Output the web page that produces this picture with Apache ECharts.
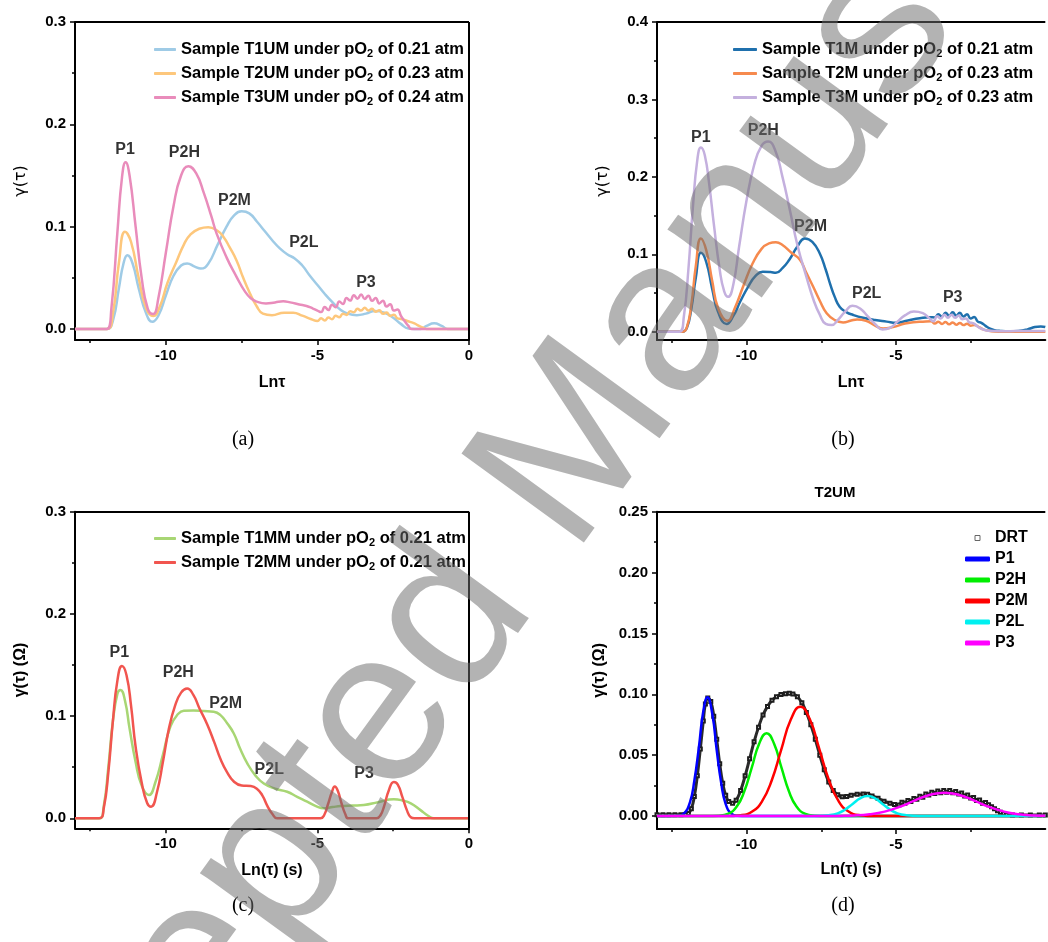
<!DOCTYPE html>
<html>
<head>
<meta charset="utf-8">
<title>DRT curves</title>
<script src="https://cdn.jsdelivr.net/npm/echarts@6/dist/echarts.min.js"></script>
<style>
  html, body { margin: 0; padding: 0; background: #fff; }
  #main { width: 1048px; height: 942px; }
</style>
</head>
<body>
<div id="main"></div>
<script>
// ---- panel (a) : as-prepared cells ----
var t1um = [[-13,0],[-11.95,0],[-11.75,0.008],[-11.55,0.04],[-11.4,0.064],[-11.27,0.072],[-11.1,0.064],[-10.9,0.04],[-10.65,0.015],[-10.45,0.007],[-10.25,0.013],[-10.0,0.033],[-9.75,0.052],[-9.5,0.062],[-9.3,0.064],[-9.05,0.061],[-8.85,0.059],[-8.6,0.064],[-8.3,0.082],[-8.0,0.1],[-7.75,0.111],[-7.5,0.115],[-7.25,0.113],[-7.0,0.105],[-6.75,0.096],[-6.5,0.087],[-6.25,0.079],[-6.0,0.073],[-5.75,0.069],[-5.5,0.062],[-5.25,0.052],[-5.0,0.043],[-4.75,0.034],[-4.5,0.026],[-4.25,0.019],[-4.0,0.015],[-3.7,0.0135],[-3.4,0.015],[-3.1,0.0175],[-2.8,0.016],[-2.5,0.011],[-2.25,0.005],[-2.0,0.0005],[-1.6,0],[-1.4,0.003],[-1.15,0.0055],[-0.9,0.003],[-0.7,0],[0,0]];
var t2um = [[-13,0],[-11.95,0],[-11.75,0.015],[-11.55,0.065],[-11.35,0.095],[-11.15,0.085],[-10.9,0.05],[-10.65,0.02],[-10.42,0.0127],[-10.2,0.022],[-9.95,0.045],[-9.65,0.066],[-9.4,0.083],[-9.2,0.092],[-8.9,0.098],[-8.6,0.0995],[-8.3,0.096],[-8.1,0.09],[-7.9,0.08],[-7.67,0.067],[-7.45,0.05],[-7.23,0.035],[-7.0,0.022],[-6.8,0.015],[-6.5,0.0135],[-6.1,0.016],[-5.8,0.016],[-5.5,0.013],[-5.2,0.0095],
  [-5.0,0.0078],[-4.88,0.0104],[-4.76,0.0083],[-4.64,0.0112],[-4.52,0.0096],[-4.4,0.0129],[-4.28,0.0115],[-4.16,0.015],[-4.04,0.0138],[-3.92,0.0174],[-3.8,0.0163],[-3.68,0.0197],[-3.56,0.018],[-3.44,0.0207],[-3.32,0.0181],[-3.2,0.0199],[-3.08,0.0168],[-2.96,0.0182],[-2.84,0.0148],[-2.72,0.0162],[-2.6,0.0128],[-2.48,0.014],[-2.36,0.0104],[-2.24,0.0098],[-2.1,0.0085],[-1.95,0.007],[-1.8,0.0055],[-1.65,0.003],[-1.5,0.001],[-1.4,0],[0,0]];
var t3um = [[-13,0],[-11.95,0],[-11.8,0.02],[-11.6,0.095],[-11.45,0.148],[-11.33,0.163],[-11.2,0.15],[-11.0,0.1],[-10.8,0.05],[-10.6,0.02],[-10.42,0.0147],[-10.25,0.03],[-10.0,0.075],[-9.75,0.12],[-9.5,0.15],[-9.26,0.159],[-9.0,0.152],[-8.75,0.133],[-8.5,0.11],[-8.33,0.0935],[-8.0,0.07],[-7.67,0.051],[-7.4,0.037],[-7.2,0.03],[-7.0,0.0267],[-6.7,0.025],[-6.4,0.026],[-6.13,0.027],[-5.9,0.026],[-5.6,0.024],[-5.36,0.0225],[-5.15,0.02],[-5.0,0.018],
  [-4.88,0.0165],[-4.76,0.0215],[-4.64,0.0185],[-4.52,0.0238],[-4.4,0.0212],[-4.28,0.0268],[-4.16,0.0245],[-4.04,0.0302],[-3.92,0.0278],[-3.8,0.033],[-3.68,0.0296],[-3.56,0.0338],[-3.44,0.0294],[-3.32,0.0326],[-3.2,0.0275],[-3.08,0.0303],[-2.96,0.025],[-2.84,0.0276],[-2.72,0.022],[-2.6,0.0242],[-2.48,0.018],[-2.36,0.019],[-2.24,0.0125],[-2.12,0.0075],[-2.0,0.003],[-1.9,0],[0,0]];

// ---- panel (b) : modified cells ----
var t1m = [[-13,0],[-12.15,0],[-12.0,0.005],[-11.85,0.03],[-11.7,0.07],[-11.53,0.102],[-11.35,0.09],[-11.15,0.055],[-10.95,0.025],[-10.67,0.010],[-10.45,0.02],[-10.2,0.04],[-9.95,0.058],[-9.7,0.072],[-9.46,0.0775],[-9.2,0.077],[-9.02,0.076],[-8.8,0.082],[-8.57,0.093],[-8.3,0.11],[-8.05,0.1205],[-7.8,0.116],[-7.55,0.101],[-7.35,0.08],[-7.21,0.0625],[-7.05,0.045],[-6.88,0.032],[-6.65,0.025],[-6.43,0.0216],[-6.1,0.018],[-5.7,0.015],[-5.31,0.013],[-5.0,0.0115],[-4.6,0.0145],[-4.2,0.0173],[-3.86,0.0186],
  [-3.7,0.0185],[-3.58,0.0225],[-3.46,0.0195],[-3.34,0.0245],[-3.22,0.0205],[-3.1,0.025],[-2.98,0.0205],[-2.86,0.0245],[-2.74,0.0195],[-2.62,0.0225],[-2.5,0.017],[-2.38,0.019],[-2.26,0.013],[-2.14,0.0115],[-2.0,0.0075],[-1.85,0.004],[-1.7,0.002],[-1.5,0.001],[-1.2,0.0005],[-0.9,0.001],[-0.6,0.003],[-0.35,0.006],[-0.15,0.0068],[0,0.006]];
var t2m = [[-13,0],[-12.15,0],[-12.0,0.006],[-11.85,0.035],[-11.7,0.085],[-11.53,0.1205],[-11.35,0.105],[-11.15,0.065],[-10.95,0.03],[-10.64,0.014],[-10.4,0.03],[-10.1,0.06],[-9.8,0.088],[-9.5,0.107],[-9.25,0.114],[-9.02,0.1155],[-8.8,0.112],[-8.5,0.102],[-8.21,0.0926],[-8.0,0.076],[-7.77,0.058],[-7.55,0.04],[-7.32,0.0238],[-7.05,0.015],[-6.77,0.012],[-6.5,0.0145],[-6.3,0.0158],[-6.0,0.014],[-5.7,0.008],[-5.43,0.004],[-5.1,0.006],[-4.7,0.0105],[-4.42,0.0122],[-4.1,0.013],
  [-3.82,0.0135],[-3.7,0.0105],[-3.58,0.013],[-3.46,0.01],[-3.34,0.0125],[-3.22,0.0095],[-3.1,0.012],[-2.98,0.009],[-2.86,0.0112],[-2.74,0.0085],[-2.62,0.0102],[-2.5,0.0078],[-2.38,0.0085],[-2.2,0.0055],[-2.08,0.003],[-1.9,0.0012],[-1.7,0.0003],[-1.4,0],[0,0]];
var t3m = [[-13,0],[-12.25,0],[-12.1,0.02],[-11.95,0.08],[-11.8,0.16],[-11.65,0.222],[-11.53,0.238],[-11.4,0.228],[-11.25,0.19],[-11.1,0.14],[-10.9,0.08],[-10.75,0.052],[-10.62,0.045],[-10.45,0.06],[-10.25,0.11],[-10.0,0.17],[-9.75,0.215],[-9.5,0.24],[-9.28,0.2455],[-9.05,0.235],[-8.8,0.2],[-8.55,0.157],[-8.3,0.112],[-8.0,0.071],[-7.75,0.04],[-7.55,0.022],[-7.35,0.01],[-7.15,0.0085],[-6.95,0.015],[-6.7,0.026],[-6.45,0.0335],[-6.2,0.03],[-5.95,0.02],[-5.7,0.01],[-5.45,0.003],[-5.2,0.005],[-4.95,0.013],[-4.7,0.021],[-4.4,0.026],[-4.1,0.024],[-3.9,0.018],[-3.75,0.0135],
  [-3.62,0.02],[-3.5,0.017],[-3.38,0.022],[-3.26,0.018],[-3.14,0.022],[-3.02,0.018],[-2.9,0.021],[-2.78,0.016],[-2.66,0.017],[-2.54,0.012],[-2.42,0.011],[-2.2,0.005],[-2.0,0.002],[-1.74,0.001],[-1.4,0.0005],[-1.0,0.0008],[-0.5,0.001],[0,0.001]];

// ---- panel (c) ----
var t1mm = [[-13,0],[-12.2,0],[-12.05,0.012],[-11.9,0.05],[-11.75,0.095],[-11.6,0.122],[-11.5,0.1255],[-11.35,0.115],[-11.2,0.088],[-11.0,0.055],[-10.8,0.032],[-10.56,0.0228],[-10.35,0.035],[-10.1,0.062],[-9.85,0.09],[-9.6,0.102],[-9.41,0.1053],[-9.1,0.1055],[-8.75,0.105],[-8.42,0.1043],[-8.2,0.101],[-7.98,0.093],[-7.76,0.083],[-7.55,0.068],[-7.32,0.054],[-7.05,0.042],[-6.77,0.034],[-6.4,0.029],[-6.0,0.026],[-5.67,0.021],[-5.34,0.0163],[-5.05,0.012],[-4.79,0.0098],[-4.5,0.011],[-4.23,0.012],[-3.85,0.0125],[-3.47,0.013],[-3.0,0.0158],[-2.48,0.0186],[-2.2,0.0175],[-1.92,0.0147],[-1.6,0.008],[-1.35,0.0025],[-1.16,0],[0,0]];
var t2mm = [[-13,0],[-12.2,0],[-12.05,0.01],[-11.9,0.045],[-11.75,0.095],[-11.6,0.135],[-11.45,0.149],[-11.3,0.14],[-11.15,0.11],[-11.0,0.07],[-10.8,0.035],[-10.62,0.015],[-10.49,0.0114],[-10.3,0.025],[-10.1,0.055],[-9.9,0.088],[-9.7,0.11],[-9.5,0.123],[-9.3,0.127],[-9.1,0.121],[-8.9,0.108],[-8.64,0.092],[-8.4,0.074],[-8.2,0.058],[-7.98,0.045],[-7.76,0.036],[-7.5,0.032],[-7.2,0.0315],[-7.0,0.029],[-6.82,0.0225],[-6.65,0.012],[-6.48,0.004],[-6.33,0],[-4.9,0],[-4.78,0.003],[-4.65,0.014],[-4.52,0.026],[-4.43,0.031],[-4.33,0.027],[-4.2,0.014],[-4.08,0.004],[-3.98,0],[-3.05,0],[-2.92,0.003],[-2.8,0.012],[-2.65,0.027],[-2.48,0.0355],[-2.35,0.033],[-2.2,0.021],[-2.05,0.008],[-1.92,0.001],[-1.8,0],[0,0]];

// ---- panel (d) : T2UM deconvolution ----
var drt = [[-13,0.001],[-12.8,0.001],[-12.6,0.001],[-12.4,0.001],[-12.2,0.001],[-12.05,0.0012],[-11.95,0.002],[-11.85,0.006],[-11.75,0.016],[-11.65,0.033],[-11.55,0.055],[-11.45,0.078],[-11.38,0.092],[-11.3,0.097],[-11.2,0.094],[-11.1,0.082],[-11.0,0.063],[-10.9,0.043],[-10.8,0.027],[-10.7,0.017],[-10.6,0.012],[-10.47,0.0104],[-10.35,0.013],[-10.2,0.021],[-10.05,0.033],[-9.9,0.047],[-9.75,0.061],[-9.6,0.073],[-9.45,0.083],[-9.3,0.09],[-9.15,0.095],[-9.0,0.098],[-8.85,0.0998],[-8.7,0.1005],[-8.57,0.1008],[-8.45,0.1003],[-8.3,0.098],[-8.15,0.093],[-8.0,0.085],[-7.85,0.075],[-7.7,0.063],[-7.55,0.05],[-7.4,0.038],[-7.25,0.028],[-7.1,0.021],[-6.95,0.0175],[-6.8,0.0158],[-6.65,0.016],[-6.5,0.017],[-6.3,0.0178],[-6.1,0.018],[-5.95,0.0178],[-5.8,0.0165],[-5.6,0.0145],[-5.4,0.0122],[-5.2,0.0105],[-5.05,0.0095],
  [-4.9,0.009],[-4.8,0.0113],[-4.7,0.0104],[-4.6,0.0128],[-4.5,0.012],[-4.4,0.0144],[-4.3,0.0137],[-4.2,0.0162],[-4.1,0.0155],[-4.0,0.018],[-3.9,0.0172],[-3.8,0.0195],[-3.7,0.0185],[-3.6,0.0205],[-3.5,0.0192],[-3.4,0.021],[-3.3,0.0195],[-3.2,0.0209],[-3.1,0.019],[-3.0,0.0201],[-2.9,0.018],[-2.8,0.0188],[-2.7,0.0164],[-2.6,0.0172],[-2.5,0.0147],[-2.4,0.0153],[-2.3,0.0127],[-2.2,0.0132],[-2.1,0.0105],[-2.0,0.0111],[-1.9,0.0092],[-1.8,0.0076],[-1.7,0.006],[-1.6,0.0044],[-1.5,0.003],[-1.4,0.0019],[-1.3,0.0012],[-1.1,0.0008],[-0.8,0.0008],[-0.5,0.0008],[-0.2,0.0008],[0,0.0008]];
var fitP1 = [[-13,0],[-12.3,0.0002],[-12.1,0.002],[-11.9,0.011],[-11.75,0.029],[-11.6,0.056],[-11.45,0.086],[-11.31,0.0975],[-11.15,0.084],[-11.0,0.054],[-10.85,0.027],[-10.7,0.0098],[-10.5,0.0017],[-10.3,0.0002],[-10.0,0],[0,0]];
var fitP2H = [[-13,0],[-11.33,0],[-10.93,0.0003],[-10.63,0.0017],[-10.33,0.0078],[-10.08,0.0201],[-9.83,0.0395],[-9.58,0.0594],[-9.33,0.068],[-9.08,0.0594],[-8.83,0.0395],[-8.58,0.0201],[-8.33,0.0078],[-8.03,0.0017],[-7.73,0.0003],[-7.33,0],[0,0]];
var fitP2M = [[-13,0],[-10.7,0],[-10.2,0.0007],[-9.8,0.0039],[-9.48,0.0122],[-9.16,0.0292],[-8.84,0.0545],[-8.52,0.0792],[-8.2,0.0898],[-7.88,0.0792],[-7.56,0.0545],[-7.24,0.0292],[-6.92,0.0122],[-6.6,0.0039],[-6.2,0.0007],[-5.7,0],[0,0]];
var fitP2L = [[-13,0],[-7.65,0],[-7.25,0.0006],[-6.95,0.0022],[-6.7,0.0053],[-6.45,0.0099],[-6.2,0.0145],[-5.95,0.0164],[-5.7,0.0145],[-5.45,0.0099],[-5.2,0.0053],[-4.95,0.0022],[-4.65,0.0006],[-4.25,0],[0,0]];
var fitP3 = [[-13,0],[-7.38,0],[-6.88,0.0001],[-6.38,0.0004],[-5.88,0.0014],[-5.38,0.0036],[-4.88,0.0075],[-4.38,0.0126],[-3.88,0.0173],[-3.38,0.0192],[-2.88,0.0173],[-2.38,0.0126],[-1.88,0.0075],[-1.38,0.0036],[-0.88,0.0014],[-0.38,0.0004],[0,0.0002]];

// peak annotations [name, x, y]
var peaksA = [['P1',-11.35,0.175],['P2H',-9.39,0.172],['P2M',-7.74,0.125],['P2L',-5.45,0.084],['P3',-3.4,0.045]];
var peaksB = [['P1',-11.53,0.251],['P2H',-9.44,0.26],['P2M',-7.86,0.1357],['P2L',-5.98,0.0496],['P3',-3.1,0.0444]];
var peaksC = [['P1',-11.54,0.162],['P2H',-9.59,0.1428],['P2M',-8.03,0.1125],['P2L',-6.59,0.048],['P3',-3.46,0.044]];

// tick values
var xMajor = [-10, -5, 0];
var xMinor = [-12.5, -7.5, -2.5];
var yMajorA = [0, 0.1, 0.2, 0.3];
var yMinorA = [0.05, 0.15, 0.25];
var yMajorB = [0, 0.1, 0.2, 0.3, 0.4];
var yMinorB = [0.05, 0.15, 0.25, 0.35];
var yMajorD = [0, 0.05, 0.1, 0.15, 0.2, 0.25];
var yMinorD = [0.025, 0.075, 0.125, 0.175, 0.225];

var FONT = '"Liberation Sans", Arial, sans-serif';
var chart = echarts.init(document.getElementById('main'));

var grids = [], xAxes = [], yAxes = [], series = [], legends = [];

// one framed panel: main axes (bottom/left) + minor-tick axes moved onto the same edges
function panel(p, cfg) {
  grids.push(cfg.grid);
  var lineStyle = { color: '#000', width: 2 };
  var tickStyle = { color: '#000', width: 1.5 };
  var lab = { color: '#000', fontWeight: 'bold', fontSize: 15, fontFamily: FONT };
  xAxes.push({
    gridIndex: p, type: 'value', min: -13, max: 0, position: 'bottom',
    axisLine: { show: true, onZero: false, lineStyle: lineStyle },
    axisTick: { show: true, length: 5, lineStyle: tickStyle, customValues: cfg.xTicks },
    axisLabel: { show: true, margin: 8, customValues: cfg.xTicks, textStyle: lab },
    splitLine: { show: false },
    name: cfg.xName, nameLocation: 'middle', nameGap: cfg.xGap,
    nameTextStyle: { color: '#000', fontWeight: 'bold', fontSize: 16, fontFamily: FONT }
  });
  xAxes.push({
    gridIndex: p, type: 'value', min: -13, max: 0, position: 'top', offset: -cfg.grid.height,
    axisLine: { show: false, onZero: false }, axisLabel: { show: false }, splitLine: { show: false },
    axisTick: { show: true, inside: true, length: 3, lineStyle: tickStyle, customValues: xMinor }
  });
  yAxes.push({
    gridIndex: p, type: 'value', min: cfg.yMin, max: cfg.yMax, position: 'left',
    axisLine: { show: true, onZero: false, lineStyle: lineStyle },
    axisTick: { show: true, length: 5, lineStyle: tickStyle, customValues: cfg.yMajor },
    axisLabel: { show: true, margin: 9, customValues: cfg.yMajor, textStyle: lab,
      formatter: function (v) { return v.toFixed(cfg.dec); } },
    splitLine: { show: false },
    name: cfg.yName, nameLocation: 'middle', nameGap: cfg.yGap,
    nameTextStyle: cfg.yBold
      ? { color: '#000', fontWeight: 'bold', fontSize: 16, fontFamily: FONT }
      : { color: '#000', fontWeight: 'normal', fontSize: 16, fontFamily: '"DejaVu Sans", sans-serif' }
  });
  yAxes.push({
    gridIndex: p, type: 'value', min: cfg.yMin, max: cfg.yMax, position: 'right', offset: -cfg.grid.width,
    axisLine: { show: false, onZero: false }, axisLabel: { show: false }, splitLine: { show: false },
    axisTick: { show: true, inside: true, length: 3, lineStyle: tickStyle, customValues: cfg.yMinor }
  });
  // top edge (and right edge where the panel is not cut off) of the frame
  var frame = [[{ coord: [-13, cfg.yMax] }, { coord: [0, cfg.yMax] }]];
  if (cfg.rightLine) frame.push([{ coord: [0, cfg.yMin] }, { coord: [0, cfg.yMax] }]);
  series.push({
    type: 'line', data: [], xAxisIndex: 2 * p, yAxisIndex: 2 * p, clip: false, silent: true,
    markLine: { silent: true, symbol: 'none', animation: false, label: { show: false },
      lineStyle: { color: '#000', width: 2, type: 'solid' }, emphasis: { disabled: true }, data: frame }
  });
}

function curve(p, name, data, color, width) {
  series.push({
    type: 'line', name: name, data: data, xAxisIndex: 2 * p, yAxisIndex: 2 * p,
    showSymbol: false, smooth: 0.5, clip: true,
    lineStyle: { color: color, width: width || 2.5 }, itemStyle: { color: color }, z: 3
  });
}

function peakLabels(p, list) {
  series.push({
    type: 'scatter', xAxisIndex: 2 * p, yAxisIndex: 2 * p, silent: true,
    symbolSize: 1, itemStyle: { color: 'rgba(0,0,0,0)' },
    data: list.map(function (d) { return { name: d[0], value: [d[1], d[2]] }; }),
    label: { show: true, position: 'inside', formatter: '{b}', color: '#000',
      fontWeight: 'bold', fontSize: 16, fontFamily: FONT }, z: 4
  });
}

function subFmt(name) { return name.replace('pO2', 'pO{s|2}'); }
var legendText = {
  color: '#000', fontWeight: 'bold', fontSize: 16.5, fontFamily: FONT,
  rich: { s: { fontSize: 11, fontWeight: 'bold', fontFamily: FONT, color: '#000', lineHeight: 11, padding: [8, 0, 0, 0] } }
};

// (a)
panel(0, { grid: { left: 75, top: 22, width: 394, height: 318 }, xTicks: xMajor, xName: 'Lnτ', xGap: 35,
  yMin: -0.01075, yMax: 0.3, yMajor: yMajorA, yMinor: yMinorA, dec: 1, yName: 'γ(τ)', yGap: 46, rightLine: true });
var namesA = ['Sample T1UM under pO2 of 0.21 atm', 'Sample T2UM under pO2 of 0.23 atm', 'Sample T3UM under pO2 of 0.24 atm'];
curve(0, namesA[0], t1um, '#9fcbe6');
curve(0, namesA[1], t2um, '#fdc77c');
curve(0, namesA[2], t3um, '#e98cbb');
peakLabels(0, peaksA);
legends.push({ left: 149, top: 35, orient: 'vertical', itemWidth: 22, itemHeight: 3, itemGap: 5, icon: 'roundRect',
  data: namesA, formatter: subFmt, textStyle: legendText, selectedMode: false });

// (b)
panel(1, { grid: { left: 657, top: 22, width: 388.3, height: 318 }, xTicks: [-10, -5], xName: 'Lnτ', xGap: 35,
  yMin: -0.01072, yMax: 0.4, yMajor: yMajorB, yMinor: yMinorB, dec: 1, yName: 'γ(τ)', yGap: 46, rightLine: false });
var namesB = ['Sample T1M under pO2 of 0.21 atm', 'Sample T2M under pO2 of 0.23 atm', 'Sample T3M under pO2 of 0.23 atm'];
curve(1, namesB[0], t1m, '#1f70ad');
curve(1, namesB[1], t2m, '#f68a4e');
curve(1, namesB[2], t3m, '#c4b0de');
peakLabels(1, peaksB);
legends.push({ left: 728, top: 35, orient: 'vertical', itemWidth: 24, itemHeight: 3, itemGap: 5, icon: 'roundRect',
  data: namesB, formatter: subFmt, textStyle: legendText, selectedMode: false });

// (c)
panel(2, { grid: { left: 75, top: 511.7, width: 394, height: 316.6 }, xTicks: xMajor, xName: 'Ln(τ) (s)', xGap: 34,
  yMin: -0.00978, yMax: 0.3, yMajor: yMajorA, yMinor: yMinorA, dec: 1, yName: 'γ(τ) (Ω)', yGap: 46, yBold: true, rightLine: true });
var namesC = ['Sample T1MM under pO2 of 0.21 atm', 'Sample T2MM under pO2 of 0.21 atm'];
curve(2, namesC[0], t1mm, '#a8d674');
curve(2, namesC[1], t2mm, '#f1554f');
peakLabels(2, peaksC);
legends.push({ left: 149, top: 524, orient: 'vertical', itemWidth: 22, itemHeight: 3, itemGap: 5, icon: 'roundRect',
  data: namesC, formatter: subFmt, textStyle: legendText, selectedMode: false });

// (d)
panel(3, { grid: { left: 657, top: 511.7, width: 388.3, height: 317.3 }, xTicks: [-10, -5], xName: 'Ln(τ) (s)', xGap: 33,
  yMin: -0.01068, yMax: 0.25, yMajor: yMajorD, yMinor: yMinorD, dec: 2, yName: 'γ(τ) (Ω)', yGap: 49, yBold: true, rightLine: false });
series.push({
  type: 'line', name: 'DRT', data: drt, xAxisIndex: 6, yAxisIndex: 6,
  showSymbol: true, symbol: 'emptyRect', symbolSize: 3, smooth: 0.5,
  lineStyle: { color: '#2a2a2a', width: 3 }, itemStyle: { color: '#1e1e1e', borderWidth: 1.2 }, z: 2
});
curve(3, 'P1', fitP1, '#0000ff');
curve(3, 'P2H', fitP2H, '#00ee00');
curve(3, 'P2M', fitP2M, '#ff0000');
curve(3, 'P2L', fitP2L, '#00f0f0');
curve(3, 'P3', fitP3, '#ff00ff');
legends.push({ left: 960, top: 525, orient: 'vertical', itemWidth: 25, itemHeight: 5, itemGap: 5, icon: 'roundRect',
  data: [{ name: 'DRT', icon: 'path://M0,0L10,0L10,10L0,10Z', itemStyle: { color: '#fff', borderColor: '#666', borderWidth: 1 } },
    'P1', 'P2H', 'P2M', 'P2L', 'P3'],
  textStyle: { color: '#000', fontWeight: 'bold', fontSize: 16, fontFamily: FONT }, selectedMode: false });

function cap(text, x, y) {
  return { type: 'text', x: x, y: y, silent: true, z: 5,
    style: { text: text, fill: '#000', font: '20px "Liberation Serif", "DejaVu Serif", serif', align: 'center', verticalAlign: 'middle' } };
}

chart.setOption({
  animation: false,
  backgroundColor: '#fff',
  grid: grids,
  xAxis: xAxes,
  yAxis: yAxes,
  legend: legends,
  series: series,
  graphic: [
    cap('(a)', 243, 440), cap('(b)', 843, 440), cap('(c)', 243, 906), cap('(d)', 843, 906),
    { type: 'text', x: 835, y: 493, silent: true, z: 5,
      style: { text: 'T2UM', fill: '#000', font: 'bold 15px ' + FONT, align: 'center', verticalAlign: 'middle' } },
    // diagonal "Accepted Manuscript" watermark across the page
    { type: 'text', x: -51, y: 1313, rotation: 54 * Math.PI / 180, silent: true, z: 100, zlevel: 1,
      style: { text: 'Accepted Manuscript', fill: 'rgba(110,110,110,0.52)', font: '220px "Liberation Sans", Arial, sans-serif',
        align: 'left', verticalAlign: 'middle' } }
  ]
});
</script>
</body>
</html>
